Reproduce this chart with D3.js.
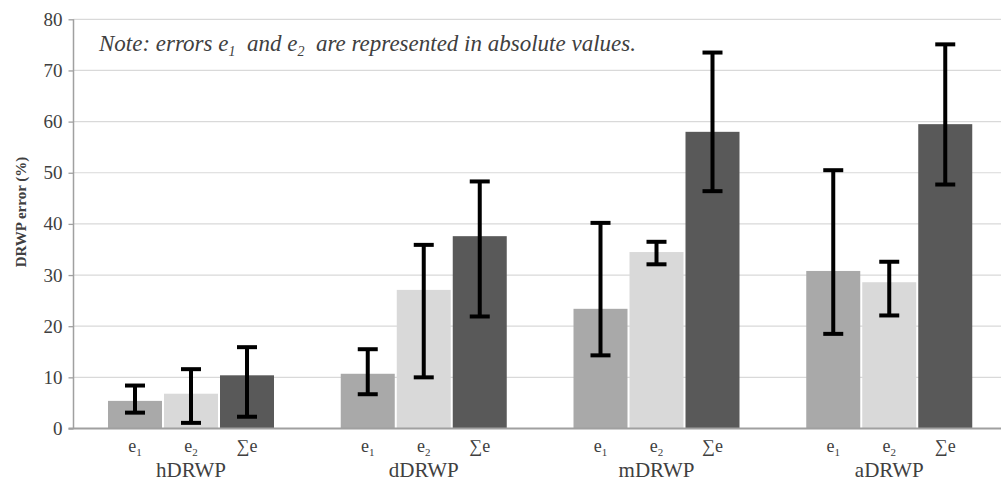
<!DOCTYPE html>
<html>
<head>
<meta charset="utf-8">
<script src="https://cdn.jsdelivr.net/npm/d3@7"></script>
<style>
  html, body { margin: 0; padding: 0; background: #fff; }
  svg { display: block; }
  text { font-family: "Liberation Serif", "Times New Roman", serif; fill: #404040; }
</style>
</head>
<body>
<svg id="chart" width="1001" height="484"></svg>
<script>
// Method groups and error components
const groups = ["hDRWP", "dDRWP", "mDRWP", "aDRWP"];
const components = ["e1", "e2", "sum"];

// Mean error (%) per group, one array per component
const e1Values  = [5.4, 10.7, 23.4, 30.8];
const e2Values  = [6.8, 27.1, 34.5, 28.6];
const sumValues = [10.4, 37.6, 58.0, 59.5];

// Error bar extents (lower, upper) per group
const e1Low   = [3.1, 6.7, 14.3, 18.5];
const e1High  = [8.4, 15.5, 40.2, 50.5];
const e2Low   = [1.1, 10.0, 32.1, 22.1];
const e2High  = [11.6, 35.9, 36.5, 32.6];
const sumLow  = [2.3, 21.9, 46.4, 47.7];
const sumHigh = [15.9, 48.3, 73.5, 75.1];

const yTicks = [0, 10, 20, 30, 40, 50, 60, 70, 80];

const fills = { e1: "#a9a9a9", e2: "#d9d9d9", sum: "#595959" };

const rows = [];
groups.forEach((g, i) => {
  rows.push({ group: g, comp: "e1",  value: e1Values[i],  lo: e1Low[i],  hi: e1High[i] });
  rows.push({ group: g, comp: "e2",  value: e2Values[i],  lo: e2Low[i],  hi: e2High[i] });
  rows.push({ group: g, comp: "sum", value: sumValues[i], lo: sumLow[i], hi: sumHigh[i] });
});

const svg = d3.select("#chart");
const plot = { left: 73.5, right: 1004.5, top: 19.3, bottom: 428.5 };

const x0 = d3.scaleBand().domain(groups).range([plot.left, plot.right]).padding(0);
const x1 = d3.scaleBand().domain(components)
  .range([34.5, x0.bandwidth() - 32.25])
  .paddingInner(2 / 56).paddingOuter(0);
const y = d3.scaleLinear().domain([0, 80]).range([plot.bottom, plot.top]);

// Horizontal gridlines
svg.append("g")
  .selectAll("line")
  .data(yTicks.filter(t => t > 0))
  .join("line")
  .attr("x1", plot.left).attr("x2", 1001)
  .attr("y1", d => y(d)).attr("y2", d => y(d))
  .attr("stroke", "#d9d9d9").attr("stroke-width", 1.2);

// Y axis
const yAxis = svg.append("g")
  .attr("transform", `translate(${plot.left},0)`)
  .call(d3.axisLeft(y).tickValues(yTicks).tickSize(5).tickPadding(6));
yAxis.attr("font-family", null);
yAxis.select(".domain").attr("stroke", "#a0a0a0").attr("stroke-width", 1.5)
  .attr("d", `M0,${plot.bottom}V${plot.top}`);
yAxis.selectAll(".tick line").attr("stroke", "#a0a0a0").attr("stroke-width", 1.3);
yAxis.selectAll(".tick text")
  .style("font-size", "19px").attr("fill", "#404040");

// Bars
const bars = svg.append("g");
bars.selectAll("rect")
  .data(rows)
  .join("rect")
  .attr("x", d => x0(d.group) + x1(d.comp))
  .attr("width", x1.bandwidth())
  .attr("y", d => y(d.value))
  .attr("height", d => y(0) - y(d.value))
  .attr("fill", d => fills[d.comp]);

// X axis baseline
svg.append("line")
  .attr("x1", plot.left - 5).attr("x2", 1001)
  .attr("y1", y(0)).attr("y2", y(0))
  .attr("stroke", "#a0a0a0").attr("stroke-width", 2);

// Error bars
const capW = 20;
const err = svg.append("g").attr("stroke", "#000").attr("stroke-width", 4);
rows.forEach(d => {
  const cx = x0(d.group) + x1(d.comp) + x1.bandwidth() / 2;
  err.append("line").attr("x1", cx).attr("x2", cx).attr("y1", y(d.lo)).attr("y2", y(d.hi));
  err.append("line").attr("x1", cx - capW / 2).attr("x2", cx + capW / 2).attr("y1", y(d.lo)).attr("y2", y(d.lo));
  err.append("line").attr("x1", cx - capW / 2).attr("x2", cx + capW / 2).attr("y1", y(d.hi)).attr("y2", y(d.hi));
});

// Component labels under each bar
const compLabels = svg.append("g");
rows.forEach(d => {
  const cx = x0(d.group) + x1(d.comp) + x1.bandwidth() / 2;
  const t = compLabels.append("text")
    .attr("x", cx).attr("y", 452)
    .attr("text-anchor", "middle")
    .style("font-size", "18px");
  if (d.comp === "sum") {
    t.text("∑e");
  } else {
    t.append("tspan").text("e");
    t.append("tspan").attr("dy", 4).style("font-size", "11px").text(d.comp === "e1" ? "1" : "2");
  }
});

// Group labels
svg.append("g")
  .selectAll("text")
  .data(groups)
  .join("text")
  .attr("x", d => x0(d) + x1("e2") + x1.bandwidth() / 2)
  .attr("y", 477)
  .attr("text-anchor", "middle")
  .style("font-size", "21px")
  .text(d => d);

// Y axis title
svg.append("text")
  .attr("transform", "translate(26,212) rotate(-90)")
  .attr("text-anchor", "middle")
  .style("font-size", "15px")
  .style("font-weight", "bold")
  .attr("fill", "#000")
  .text("DRWP error (%)");

// Note
const note = svg.append("text")
  .attr("x", 99).attr("y", 51)
  .style("font-size", "23px")
  .style("font-style", "italic")
  .attr("fill", "#262626");
note.append("tspan").text("Note: errors e");
note.append("tspan").attr("dy", 5).style("font-size", "14px").text("1");
note.append("tspan").attr("dy", -5).text("\u00a0 and e");
note.append("tspan").attr("dy", 5).style("font-size", "14px").text("2");
note.append("tspan").attr("dy", -5).text("\u00a0 are represented in absolute values.");
</script>
</body>
</html>
